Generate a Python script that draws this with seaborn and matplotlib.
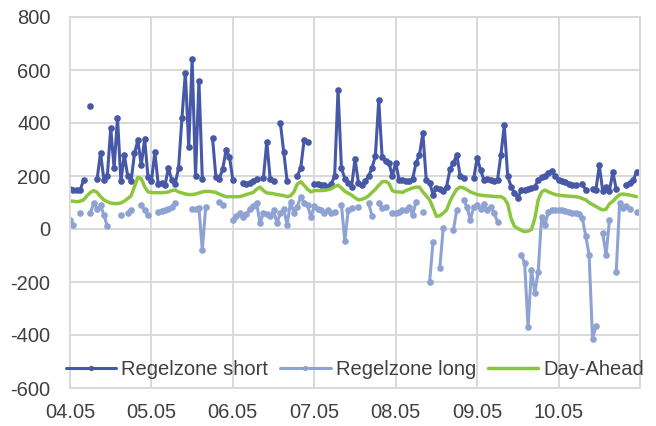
import numpy as np
import pandas as pd
import matplotlib
matplotlib.use("Agg")
import matplotlib.pyplot as plt
from matplotlib.lines import Line2D
import seaborn as sns

nan = np.nan

# ---- data (hourly values, 04.05 - 10.05) ----
short_d1 = [150, 148, 148, 147, 185, nan, 465, nan, 190, 287, 185, 200, 380, 230, 420, 180, 280, 200, 180, 285, 335, 240, 340, 195]
short_d2 = [180, 290, 170, 175, 165, 230, 185, 170, 230, 420, 590, 310, 640, 200, 560, 190, nan, nan, 345, 195, 190, 226, 298, 273]
short_d3 = [185, nan, nan, 173, 170, 175, 180, 190, nan, 191, 329, 190, 180, nan, 400, 290, 180, nan, nan, 200, 230, 335, 330, nan]
short_d4 = [170, 168, 166, 165, 160, 170, 200, 525, 230, 190, 175, 160, 265, 175, 165, 180, 200, 230, 275, 485, 270, 255, 250, 200]
short_d5 = [250, 185, 185, 180, 180, 190, 250, 280, 362, 185, 175, 130, 155, 150, 145, 160, 225, 250, 280, 200, 192, nan, nan, 192]
short_d6 = [268, 223, 185, 190, 185, 182, 185, 279, 392, 200, 160, 136, 117, 147, 147, 150, 155, 160, 185, 195, 200, 211, 220, 200]
short_d7 = [185, 182, 178, 170, 166, 166, nan, 170, 147, nan, 150, 148, 240, 145, 160, 145, 215, 150, nan, nan, 165, 175, 185, 215]

long_d1 = [34, 15, nan, 60, nan, nan, 60, 98, 75, 90, 53, 10, nan, nan, nan, 53, nan, 60, 72, nan, nan, 90, 70, 53]
long_d2 = [nan, nan, 65, 68, 70, 75, 84, 98, nan, nan, nan, nan, 75, 75, 78, -80, 84, nan, nan, nan, 103, 90, nan, nan]
long_d3 = [34, 50, 60, 45, 55, 75, 85, 98, 22, 60, 55, 50, 70, 22, 60, 75, 15, 103, 60, 84, 122, 100, 90, 46]
long_d4 = [85, 75, 70, 60, 72, 60, 65, nan, 90, -44, 70, 78, nan, 84, nan, nan, 98, 50, nan, 98, 80, 84, nan, 60]
long_d5 = [60, 65, 70, 72, 84, 53, 103, nan, 65, nan, -199, -48, nan, -147, 4, nan, nan, -4, 72, nan, 110, 84, 34, 84]
long_d6 = [90, 75, 95, 70, 84, 60, 28, nan, nan, nan, nan, nan, nan, -98, -128, -370, -155, -240, -161, 46, 15, 65, 70, 72]
long_d7 = [72, 70, 68, 66, 62, 60, 55, 41, -26, -98, -414, -367, nan, -15, -98, 34, nan, -161, 98, 80, 85, 75, nan, 65]

da_d1 = [105, 105, 103, 105, 110, 125, 138, 145, 138, 122, 110, 103, 98, 96, 96, 98, 105, 115, 125, 160, 195, 190, 160, 140]
da_d2 = [138, 137, 137, 137, 138, 140, 145, 147, 140, 136, 132, 130, 130, 132, 136, 140, 142, 142, 140, 138, 132, 126, 122, 122]
da_d3 = [122, 122, 122, 126, 130, 134, 138, 150, 158, 145, 136, 135, 133, 130, 128, 126, 122, 125, 140, 170, 178, 165, 150, 140]
da_d4 = [145, 145, 145, 146, 148, 152, 160, 165, 155, 142, 135, 128, 118, 110, 112, 117, 125, 138, 150, 165, 178, 180, 172, 145]
da_d5 = [140, 140, 138, 145, 150, 155, 158, 158, 140, 125, 110, 80, 48, 50, 60, 72, 105, 130, 150, 158, 155, 148, 140, 135]
da_d6 = [130, 128, 126, 125, 124, 123, 122, 122, 115, 95, 40, 10, 2, -5, -10, -8, -2, 40, 110, 140, 147, 140, 135, 130]
da_d7 = [128, 126, 125, 124, 123, 122, 120, 115, 110, 100, 92, 85, 78, 72, 75, 95, 105, 118, 130, 132, 130, 128, 125, 122]

tick_labels = ["04.05", "05.05", "06.05", "07.05", "08.05", "09.05", "10.05", ""]
y_ticks = [-600, -400, -200, 0, 200, 400, 600, 800]
series_names = ["Regelzone short", "Regelzone long", "Day-Ahead"]

short = short_d1 + short_d2 + short_d3 + short_d4 + short_d5 + short_d6 + short_d7
long_ = long_d1 + long_d2 + long_d3 + long_d4 + long_d5 + long_d6 + long_d7
da = da_d1 + da_d2 + da_d3 + da_d4 + da_d5 + da_d6 + da_d7

start = pd.Timestamp("2021-05-04 00:00")
times = pd.date_range(start, periods=len(short), freq="h")

C_SHORT = "#4658A6"
C_LONG = "#8FA3D3"
C_DA = "#8CC63F"
GRID = "#D9D9D9"
TXT = "#404040"

sns.set_theme(style="white")
plt.rcParams["font.family"] = ["Liberation Sans", "DejaVu Sans"]

fig = plt.figure(figsize=(6.56, 4.26), dpi=100)
ax = fig.add_axes([70 / 656, 38 / 426, 570 / 656, 371 / 426])


def segmented(values):
    df = pd.DataFrame({"t": times, "v": values})
    df["seg"] = df["v"].isna().cumsum()
    return df.dropna()


df_s = segmented(short)
df_l = segmented(long_)
df_d = pd.DataFrame({"t": times, "v": da})

LW = 2.2
MS = 4.8
sns.lineplot(data=df_s, x="t", y="v", units="seg", estimator=None, color=C_SHORT,
             lw=LW, marker="o", markersize=MS, markeredgewidth=0, ax=ax, legend=False)
sns.lineplot(data=df_l, x="t", y="v", units="seg", estimator=None, color=C_LONG,
             lw=LW, marker="o", markersize=MS, markeredgewidth=0, ax=ax, legend=False)
sns.lineplot(data=df_d, x="t", y="v", estimator=None, color=C_DA, lw=2.5, ax=ax, legend=False)

ax.set_xlim(start, start + pd.Timedelta(days=7))
ax.set_ylim(-600, 800)
xt = [start + pd.Timedelta(days=i) for i in range(8)]
ax.set_xticks(xt)
ax.set_xticklabels(tick_labels)
ax.set_yticks(y_ticks)
ax.set_yticklabels([str(v) for v in y_ticks])
ax.set_xlabel("")
ax.set_ylabel("")
ax.set_axisbelow(True)
ax.grid(True, color=GRID, linewidth=1.4)
for sp in ax.spines.values():
    sp.set_visible(True)
    sp.set_color(GRID)
    sp.set_linewidth(1.4)
ax.tick_params(axis="both", length=0, labelsize=14.5, colors=TXT)
ax.tick_params(axis="y", pad=14)
ax.tick_params(axis="x", pad=11)

handles = [
    Line2D([], [], color=C_SHORT, lw=LW, marker="o", markersize=3.8, markeredgewidth=0),
    Line2D([], [], color=C_LONG, lw=LW, marker="o", markersize=3.8, markeredgewidth=0),
    Line2D([], [], color=C_DA, lw=2.5),
]
leg = ax.legend(handles, series_names, loc="center", bbox_to_anchor=(0.5, 0.049), ncol=3,
                frameon=False, fontsize=14.5, handlelength=2.5, handletextpad=0.25,
                columnspacing=0.6, numpoints=1, borderpad=0, borderaxespad=0)
for t in leg.get_texts():
    t.set_color(TXT)

fig.savefig("out.png", dpi=100)
